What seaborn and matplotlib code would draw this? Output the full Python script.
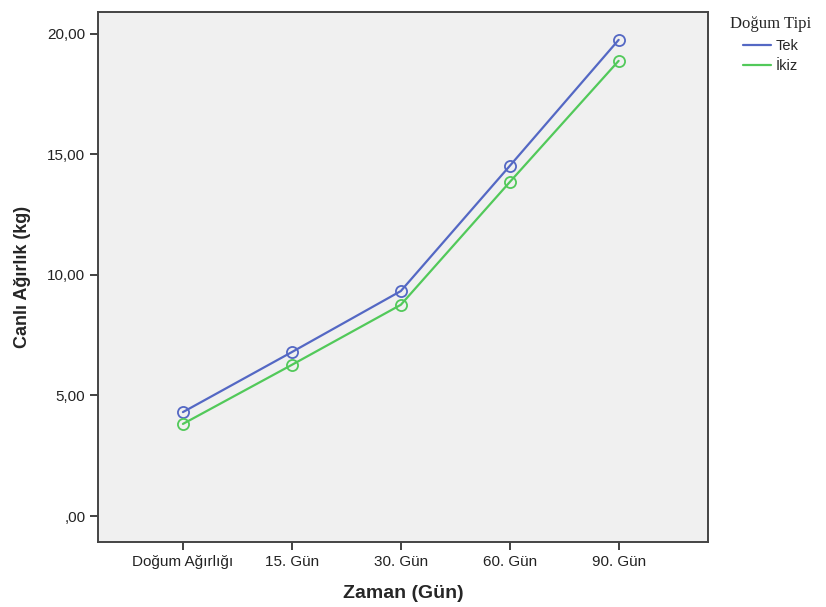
import matplotlib.pyplot as plt
import seaborn as sns
import pandas as pd
from matplotlib.lines import Line2D

# Zaman noktaları ve ortalama canlı ağırlıklar (kg)
zaman = ['Doğum Ağırlığı', '15. Gün', '30. Gün', '60. Gün', '90. Gün']
tek = [4.31, 6.80, 9.33, 14.52, 19.75]
ikiz = [3.82, 6.27, 8.76, 13.85, 18.88]
gruplar = ['Tek', 'İkiz']
renkler = ['#5468C4', '#52C95A']
y_ticks = [0, 5, 10, 15, 20]

df = pd.DataFrame({
    'Zaman': zaman * 2,
    'Ağırlık': tek + ikiz,
    'Doğum Tipi': ['Tek'] * len(tek) + ['İkiz'] * len(ikiz),
})

sns.set_style('white')
plt.rcParams['font.family'] = ['Liberation Sans', 'DejaVu Sans']

fig = plt.figure(figsize=(8.26, 6.07), dpi=100)
ax = fig.add_axes([0.1186, 0.107, 0.7385, 0.873])
ax.set_facecolor('#F0F0F0')

sns.lineplot(data=df, x='Zaman', y='Ağırlık', hue='Doğum Tipi',
             hue_order=gruplar, palette=renkler, marker='o',
             markerfacecolor='none', markersize=8, markeredgewidth=1.3,
             linewidth=1.6, legend=False, ax=ax)

# çember kenarlarını çizgi rengine eşitle
for ln in ax.lines:
    ln.set_markeredgecolor(ln.get_color())

ax.set_xlim(-0.78, 4.82)
ax.set_ylim(-1.08, 20.9)
ax.set_yticks(y_ticks)
ax.set_yticklabels([',00' if v == 0 else ('%.2f' % v).replace('.', ',')
                    for v in y_ticks])

for s in ax.spines.values():
    s.set_color('#444444')
    s.set_linewidth(1.4)

ax.tick_params(axis='both', which='both', direction='out', length=6,
               width=1.3, color='#333333', labelsize=11, labelcolor='#222222',
               left=True, bottom=True, pad=3)

ax.set_xlabel('Zaman (Gün)', fontsize=14, fontweight='bold', labelpad=12)
ax.set_ylabel('Canlı Ağırlık (kg)', fontsize=13, fontweight='bold', labelpad=12)

handles = [Line2D([0], [0], color=c, lw=1.6) for c in renkler]
leg = fig.legend(handles, gruplar, title='Doğum Tipi', loc='upper left',
                 bbox_to_anchor=(0.868, 0.995), frameon=False, fontsize=10.5,
                 handlelength=1.9, handletextpad=0.3, labelspacing=0.45,
                 alignment='center')
leg.get_title().set_family(['Liberation Serif', 'DejaVu Serif'])
leg.get_title().set_fontsize(12)

fig.savefig('out.png', dpi=100)
